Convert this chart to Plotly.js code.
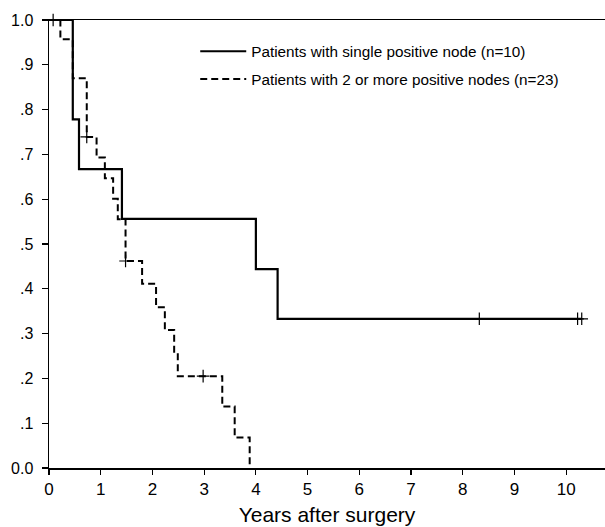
<!DOCTYPE html>
<html><head><meta charset="utf-8">
<script src="https://cdn.plot.ly/plotly-3.0.1.min.js"></script>
<style>html,body{margin:0;padding:0;background:#fff}</style>
</head><body><div id="chart" style="width:605px;height:527px"></div>
<script>
// Kaplan-Meier curve: single positive node (n=10)
const singleTimes = [0, 0.46, 0.58, 1.41, 4.00, 4.42, 10.30];
const singleSurv  = [1, 0.778, 0.667, 0.556, 0.444, 0.333, 0.333];
const singleCensorTimes = [0.08, 8.32, 10.22, 10.30];
const singleCensorSurv  = [1, 0.333, 0.333, 0.333];

// Kaplan-Meier curve: 2 or more positive nodes (n=23)
const multiTimes = [0, 0.22, 0.46, 0.73, 0.92, 1.08, 1.24, 1.33, 1.48, 1.80, 2.07, 2.24, 2.42, 2.49, 3.35, 3.59, 3.88];
const multiSurv  = [1, 0.957, 0.870, 0.739, 0.693, 0.647, 0.601, 0.555, 0.462, 0.411, 0.359, 0.308, 0.257, 0.205, 0.137, 0.068, 0];
const multiCensorTimes = [0.73, 1.48, 2.98];
const multiCensorSurv  = [0.739, 0.462, 0.205];

const seriesNames = ['Patients with single positive node (n=10)', 'Patients with 2 or more positive nodes (n=23)'];
const xTicks = [0,1,2,3,4,5,6,7,8,9,10];
const yTicks = [0,0.1,0.2,0.3,0.4,0.5,0.6,0.7,0.8,0.9,1.0];
const yTickText = ['0.0','.1','.2','.3','.4','.5','.6','.7','.8','.9','1.0'];

const FONT = 'Liberation Sans, Arial, sans-serif';

const traces = [
  {x: singleTimes, y: singleSurv, mode: 'lines', line: {shape: 'hv', color: '#000', width: 2.2},
   name: seriesNames[0], legendgroup: 'a', cliponaxis: false},
  {x: multiTimes, y: multiSurv, mode: 'lines', line: {shape: 'hv', color: '#000', width: 2, dash: '7px,4px'},
   name: seriesNames[1], legendgroup: 'b', cliponaxis: false},
  {x: singleCensorTimes, y: singleCensorSurv, mode: 'markers', showlegend: false, cliponaxis: false,
   marker: {symbol: 'cross-thin', size: 9, line: {color: '#000', width: 1.2}}},
  {x: multiCensorTimes, y: multiCensorSurv, mode: 'markers', showlegend: false, cliponaxis: false,
   marker: {symbol: 'cross-thin', size: 9, line: {color: '#000', width: 1.2}}}
];

const layout = {
  width: 605, height: 527,
  margin: {l: 49, r: 0, t: 20, b: 59},
  paper_bgcolor: '#fff', plot_bgcolor: '#fff',
  font: {family: FONT, color: '#000'},
  showlegend: true,
  legend: {x: 0.263, y: 0.967, xanchor: 'left', yanchor: 'top', bgcolor: 'rgba(0,0,0,0)',
           font: {size: 15.3, family: FONT}, traceorder: 'grouped', tracegroupgap: 5, itemwidth: 46},
  xaxis: {range: [0, 10.75], tickvals: xTicks, showline: true, linecolor: '#000', linewidth: 1.5,
          mirror: true, ticks: 'outside', ticklen: 5, tickwidth: 1.2, tickcolor: '#000',
          showgrid: false, zeroline: false, tickfont: {size: 17, family: FONT},
          title: {text: 'Years after surgery', font: {size: 21, family: FONT}, standoff: 9}},
  yaxis: {range: [0, 1], tickvals: yTicks, ticktext: yTickText, showline: true, linecolor: '#000', linewidth: 1.5,
          ticks: 'outside', ticklen: 6, tickwidth: 1.2, tickcolor: '#000', ticklabelstandoff: 5,
          showgrid: false, zeroline: false, tickfont: {size: 16, family: FONT}}
};

Plotly.newPlot('chart', traces, layout, {displayModeBar: false, staticPlot: true});
</script></body></html>
